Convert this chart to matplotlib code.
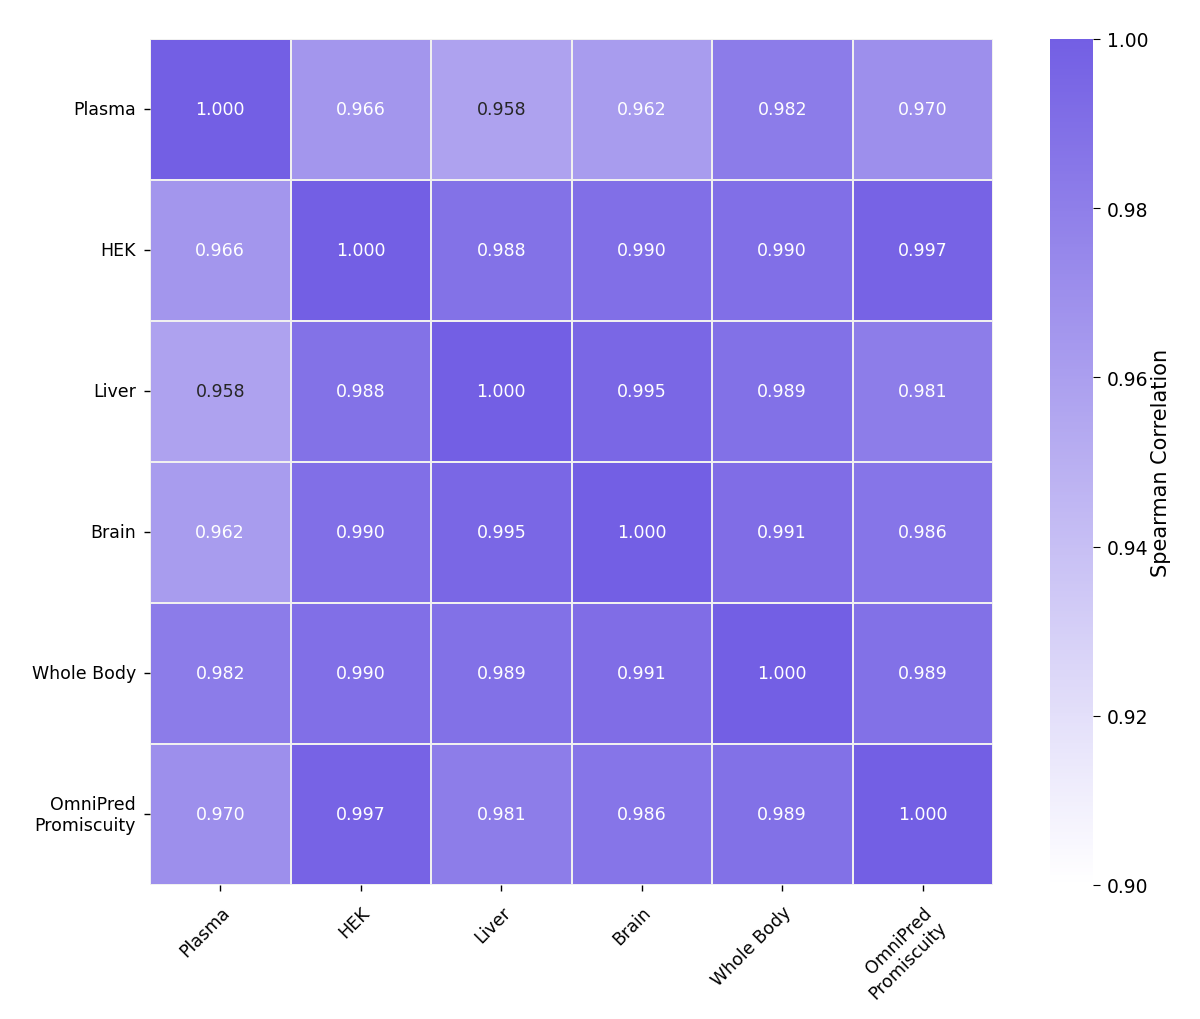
import numpy as np
import matplotlib
matplotlib.use("Agg")
import matplotlib.pyplot as plt
import seaborn as sns
from matplotlib.colors import LinearSegmentedColormap

labels = ["Plasma", "HEK", "Liver", "Brain", "Whole Body", "OmniPred\nPromiscuity"]

row_plasma = [1.000, 0.966, 0.958, 0.962, 0.982, 0.970]
row_hek    = [0.966, 1.000, 0.988, 0.990, 0.990, 0.997]
row_liver  = [0.958, 0.988, 1.000, 0.995, 0.989, 0.981]
row_brain  = [0.962, 0.990, 0.995, 1.000, 0.991, 0.986]
row_whole  = [0.982, 0.990, 0.989, 0.991, 1.000, 0.989]
row_omni   = [0.970, 0.997, 0.981, 0.986, 0.989, 1.000]

corr = np.array([row_plasma, row_hek, row_liver, row_brain, row_whole, row_omni])

cmap = LinearSegmentedColormap.from_list("purp", ["#ffffff", "#735fe4"])

fig = plt.figure(figsize=(12, 10.2), dpi=100)
ax = fig.add_axes([0.125, 0.1314, 0.7025, 0.8294])
cax = fig.add_axes([0.875, 0.1314, 0.036, 0.8294])

sns.heatmap(corr, ax=ax, cbar_ax=cax, cmap=cmap, vmin=0.90, vmax=1.00,
            annot=True, fmt=".3f", annot_kws={"fontsize": 12.5},
            linewidths=1.2, linecolor="#f0f0f0",
            xticklabels=labels, yticklabels=labels)

ax.set_xticklabels(labels, rotation=45, ha="right", rotation_mode="anchor", fontsize=12.5)
ax.set_yticklabels(labels, rotation=0, fontsize=12.5)
ax.tick_params(axis="both", length=4, width=1, pad=6)
ax.tick_params(axis="x", pad=9)

cb = ax.collections[0].colorbar
cb.set_ticks([0.90, 0.92, 0.94, 0.96, 0.98, 1.00])
cb.ax.tick_params(labelsize=13.5, length=5, pad=5)
cb.set_label("Spearman Correlation", fontsize=15, labelpad=2)

fig.savefig("out.png", dpi=100)
